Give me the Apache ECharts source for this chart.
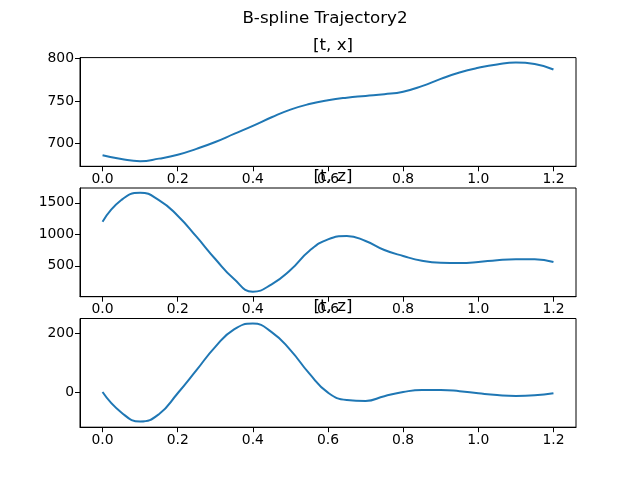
<!DOCTYPE html>
<html>
<head>
<meta charset="utf-8">
<title>B-spline Trajectory2</title>
<script src="https://cdn.jsdelivr.net/npm/echarts@6/dist/echarts.min.js"></script>
<style>
  html, body { margin: 0; padding: 0; background: #fff; }
  #main { width: 640px; height: 480px; }
</style>
</head>
<body>
<div id="main"></div>
<script>
// sample times (s)
var tVals = [
  0.0, 0.05, 0.1, 0.15, 0.2, 0.25, 0.3, 0.35, 0.4, 0.45, 0.5, 0.55, 0.6,
  0.65, 0.7, 0.75, 0.8, 0.85, 0.9, 0.95, 1.0, 1.05, 1.1, 1.15, 1.2
];

// [t, x]
var xVals = [
  686.5, 682, 679.5, 682.5, 687, 694, 702, 711.5, 721, 731, 740, 746.5, 751,
  754, 756, 758, 761, 767.5, 776, 783.5, 789, 793, 795.2, 793.5, 787
];

// [t, z] (first)
var zVals = [
  1200, 1544, 1660, 1544, 1296, 962, 608, 290, 89, 206, 433, 735, 920,
  973, 894, 751, 656, 581, 549, 545, 560, 590, 605, 603, 560
];

// [t, z] (second)
var z2Vals = [
  2, -67, -98, -73, -2, 76, 155, 214, 234, 205, 144, 65, 0,
  -25, -28, -12, 2, 9, 9, 5, -2, -8, -11, -9, -2
];

var tTicks = [0, 0.2, 0.4, 0.6, 0.8, 1.0, 1.2];
var xTicks = [700, 750, 800];
var zTicks = [500, 1000, 1500];
var z2Ticks = [0, 200];

var titles = ['[t, x]', '[t, z]', '[t, z]'];

var chartDom = document.getElementById('main');
var myChart = echarts.init(chartDom);
var option;

var FONT = 'DejaVu Sans';
var LINE_COLOR = '#1f77b4';

function pairs(ys) {
  return tVals.map(function (t, i) { return [t, ys[i]]; });
}

var gridTops = [57.6, 188.0, 318.5];
var yRanges = [[673.5, 801], [10, 1735], [-117, 251]];
var yTicks = [xTicks, zTicks, z2Ticks];
var seriesData = [xVals, zVals, z2Vals];

function tickOpt(values) {
  return {
    show: true,
    customValues: values,
    length: 5,
    inside: false,
    lineStyle: { color: '#000', width: 1 }
  };
}

option = {
  backgroundColor: '#fff',
  animation: false,
  title: [
    {
      text: 'B-spline Trajectory2',
      left: 320,
      top: 5,
      textAlign: 'center',
      textStyle: { fontFamily: FONT, fontSize: 16.7, fontWeight: 'normal', color: '#000' }
    }
  ].concat(titles.map(function (txt, i) {
    return {
      text: txt,
      left: 328,
      top: gridTops[i] - 25,
      textAlign: 'center',
      textStyle: { fontFamily: FONT, fontSize: 16.7, fontWeight: 'normal', color: '#000' }
    };
  })),
  grid: gridTops.map(function (top) {
    return {
      left: 80,
      top: top,
      width: 496,
      height: 108.7,
      show: true,
      borderColor: '#000',
      borderWidth: 1
    };
  }),
  xAxis: gridTops.map(function (top, i) {
    return {
      type: 'value',
      gridIndex: i,
      position: 'bottom',
      z: 10,
      min: -0.06,
      max: 1.26,
      axisLine: { show: true, onZero: false, lineStyle: { color: '#000', width: 1 } },
      splitLine: { show: false },
      axisTick: tickOpt(tTicks),
      axisLabel: {
        customValues: tTicks,
        margin: 6,
        color: '#000',
        fontFamily: FONT,
        fontSize: 13.9,
        formatter: function (v) { return v.toFixed(1); }
      }
    };
  }),
  yAxis: gridTops.map(function (top, i) {
    return {
      type: 'value',
      gridIndex: i,
      position: 'left',
      z: 10,
      min: yRanges[i][0],
      max: yRanges[i][1],
      axisLine: { show: true, onZero: false, lineStyle: { color: '#000', width: 1 } },
      splitLine: { show: false },
      axisTick: tickOpt(yTicks[i]),
      axisLabel: {
        customValues: yTicks[i],
        margin: 6,
        color: '#000',
        fontFamily: FONT,
        fontSize: 13.9,
        formatter: function (v) { return String(v); }
      }
    };
  }),
  series: seriesData.map(function (ys, i) {
    return {
      type: 'line',
      xAxisIndex: i,
      yAxisIndex: i,
      data: pairs(ys),
      smooth: true,
      showSymbol: false,
      lineStyle: { color: LINE_COLOR, width: 2 }
    };
  })
};

option && myChart.setOption(option);
</script>
</body>
</html>
